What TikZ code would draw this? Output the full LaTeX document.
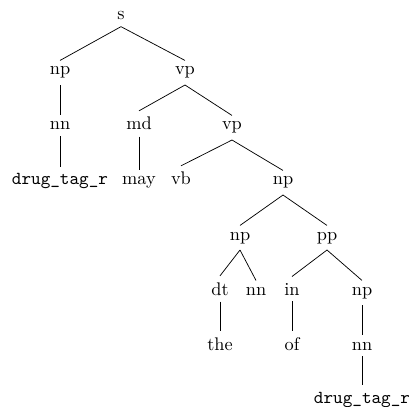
\documentclass[tikz,border=0pt]{standalone}
\begin{document}
\begin{tikzpicture}[
	x=0.5465pt, y=-0.5465pt,
	tag/.style={anchor=base},
	edge/.style={thin},
]
\useasboundingbox (0,0) rectangle (409,407);

\node[tag] (s) at (121,20) {s};
\node[tag] (np1) at (60,75) {np};
\node[tag] (vp1) at (185,75) {vp};
\node[tag] (nn1) at (60,130) {nn};
\node[tag] (md) at (139,130) {md};
\node[tag] (vp2) at (232,130) {vp};
\node[tag] (drug1) at (60,185) {\texttt{drug\_tag\_r}};
\node[tag] (may) at (139,185) {may};
\node[tag] (vb) at (181,185) {vb};
\node[tag] (np2) at (283,185) {np};
\node[tag] (np3) at (240,240) {np};
\node[tag] (pp) at (327,240) {pp};
\node[tag] (dt) at (220,295) {dt};
\node[tag] (nn2) at (256,295) {nn};
\node[tag] (in) at (292,295) {in};
\node[tag] (np4) at (362,295) {np};
\node[tag] (the) at (220,350) {the};
\node[tag] (of) at (292,350) {of};
\node[tag] (nn3) at (362,350) {nn};
\node[tag] (drug2) at (362,403) {\texttt{drug\_tag\_r}};

\foreach \a/\b in {s/np1, s/vp1, np1/nn1, nn1/drug1, vp1/md, vp1/vp2,
	md/may, vp2/vb, vp2/np2, np2/np3, np2/pp, np3/dt, np3/nn2,
	dt/the, pp/in, pp/np4, in/of, np4/nn3, nn3/drug2}
	\draw[edge] (\a.south) -- (\b.north);
\end{tikzpicture}
\end{document}
